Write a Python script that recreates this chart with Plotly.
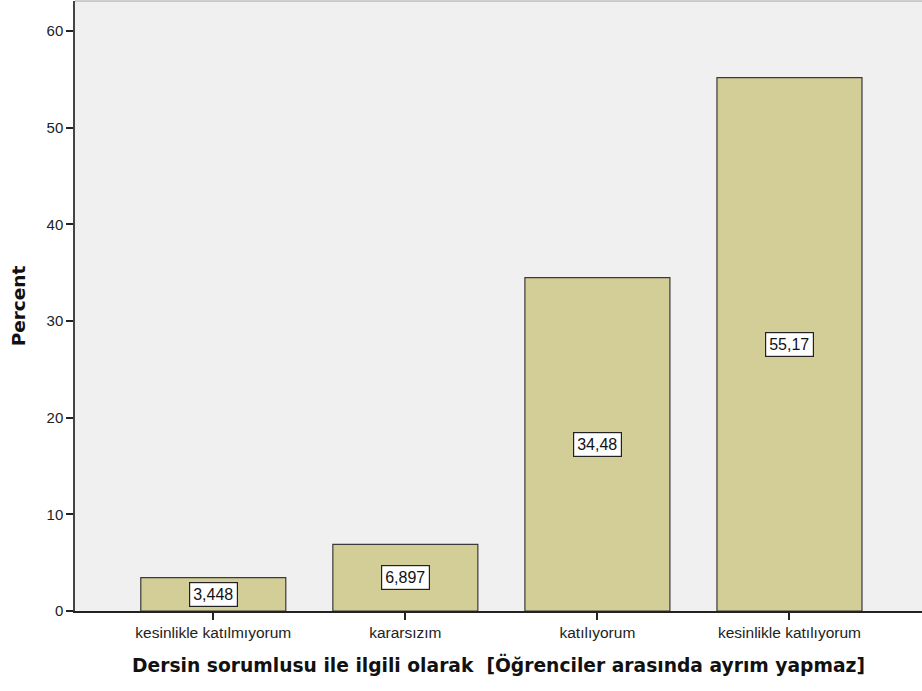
import plotly.graph_objects as go

categories = ["kesinlikle katılmıyorum", "kararsızım", "katılıyorum", "kesinlikle katılıyorum"]
percent = [3.448, 6.897, 34.48, 55.17]
value_labels = ["3,448", "6,897", "34,48", "55,17"]
y_ticks = [0, 10, 20, 30, 40, 50, 60]

x_pos = list(range(len(categories)))

fig = go.Figure()
fig.add_trace(go.Bar(
    x=x_pos, y=percent,
    marker=dict(color="#D3CE97", line=dict(color="#3A3A3A", width=1.2)),
    width=0.755,
    hoverinfo="skip",
))

for xi, v, lab in zip(x_pos, percent, value_labels):
    fig.add_annotation(
        x=xi, y=v / 2, text=lab, showarrow=False,
        font=dict(family="Liberation Sans", size=16, color="#111"),
        bgcolor="white", bordercolor="#222", borderwidth=1.2, borderpad=3,
    )

fig.update_layout(
    width=922, height=691,
    margin=dict(l=75, r=0, t=1, b=80, autoexpand=False),
    paper_bgcolor="white",
    plot_bgcolor="#F0F0F0",
    showlegend=False,
    font=dict(family="Liberation Sans", size=15, color="#222"),
    xaxis=dict(
        range=[-0.72, 3.69],
        tickmode="array", tickvals=x_pos, ticktext=categories,
        ticks="outside", ticklen=7, tickcolor="#222", tickwidth=1.5,
        showline=True, linecolor="#222", linewidth=1.5,
        showgrid=False, zeroline=False, automargin=False,
        tickfont=dict(family="Liberation Sans", size=15.5, color="#222"),
        title=dict(text="<b>Dersin sorumlusu ile ilgili olarak  [Öğrenciler arasında ayrım yapmaz]</b>",
                   font=dict(family="DejaVu Sans", size=18.7, color="#111"), standoff=19),
    ),
    yaxis=dict(
        range=[0, 63.1],
        tickmode="array", tickvals=y_ticks,
        ticks="outside", ticklen=7, tickcolor="#222", tickwidth=1.5,
        showline=True, linecolor="#444", linewidth=1.5,
        showgrid=False, zeroline=False, automargin=False,
        tickfont=dict(family="Liberation Sans", size=15, color="#222"),
        title=dict(text="<b>Percent</b>",
                   font=dict(family="DejaVu Sans", size=18.5, color="#111"), standoff=16),
    ),
)

fig.add_shape(type="line", xref="paper", yref="paper", x0=0, x1=1, y0=1, y1=1,
              line=dict(color="#A0A0A0", width=1))

fig.write_html("out.html", config={"displayModeBar": False},
               post_script="document.body.style.margin='0';")
